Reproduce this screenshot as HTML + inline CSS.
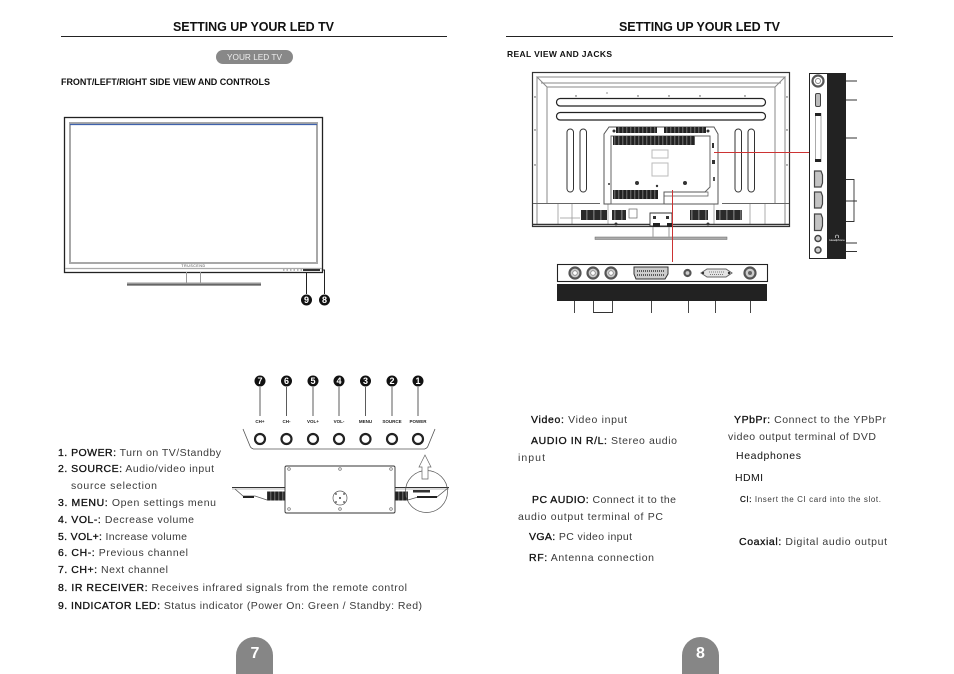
<!DOCTYPE html>
<html><head><meta charset="utf-8"><style>
html,body{margin:0;padding:0;background:#fff;width:954px;height:674px;overflow:hidden}
svg{display:block}
text{font-family:"Liberation Sans",sans-serif;fill:#3a3a3a;font-size:10.5px}
.b{font-weight:bold}
.h{font-weight:bold;font-size:12.5px;fill:#111}
.t tspan.k{fill:#111;stroke:#111;stroke-width:.3px}
.n circle{fill:#111}
.n text{fill:#fff;font-size:9px;font-weight:bold;text-anchor:middle}
.sm{font-size:4.5px;fill:#222;text-anchor:middle;font-weight:bold}
.l{stroke:#222;stroke-width:1;fill:none}
</style></head><body>
<svg width="954" height="674" viewBox="0 0 954 674" xmlns="http://www.w3.org/2000/svg">
<defs>
<pattern id="st" width="4" height="10" patternUnits="userSpaceOnUse"><rect width="4" height="10" fill="#222"/><rect x="2.500" y="0" width=".7" height="10" fill="#999"/></pattern>
<pattern id="st2" width="7" height="10" patternUnits="userSpaceOnUse"><rect width="7" height="10" fill="#2a2a2a"/><rect x="5.500" y="0" width=".8" height="10" fill="#aaa"/></pattern>
</defs>
<!-- headers -->
<text class="h" x="173" y="31" textLength="161" lengthAdjust="spacing">SETTING UP YOUR LED TV</text>
<line x1="61" y1="36.500" x2="447" y2="36.500" stroke="#222"/>
<text class="h" x="619" y="31" textLength="161" lengthAdjust="spacing">SETTING UP YOUR LED TV</text>
<line x1="506" y1="36.500" x2="893" y2="36.500" stroke="#222"/>
<rect x="216" y="50" width="77" height="14" rx="7" fill="#888"/>
<text x="227" y="60" textLength="55" lengthAdjust="spacingAndGlyphs" style="fill:#eee;font-size:8.500px">YOUR LED TV</text>
<text class="b" x="61" y="85" textLength="209" lengthAdjust="spacing" style="font-size:9px;fill:#111">FRONT/LEFT/RIGHT SIDE VIEW AND CONTROLS</text>
<text class="b" x="507" y="57" textLength="105" lengthAdjust="spacing" style="font-size:8.500px;fill:#111">REAL VIEW AND JACKS</text>

<!-- front TV -->
<rect x="64.500" y="117.500" width="258" height="155" fill="#fff" stroke="#222" stroke-width="1.300"/>
<rect x="70" y="123" width="247" height="140" fill="#fff" stroke="#a8a8a8" stroke-width="2"/>
<line x1="70" y1="124.500" x2="317" y2="124.500" stroke="#3f62ad" stroke-width="1.300"/>
<line x1="65" y1="268.500" x2="322" y2="268.500" stroke="#aaa" stroke-width="1.200"/>
<text x="193.500" y="267" text-anchor="middle" style="font-size:3.500px;letter-spacing:.6px">TRUSCEND</text>
<line x1="283" y1="270" x2="322" y2="270" stroke="#777" stroke-dasharray="1.500 2" stroke-width="1"/>
<rect x="303" y="269" width="17" height="2" fill="#333"/>
<line x1="186.500" y1="272" x2="186.500" y2="283" stroke="#999"/>
<line x1="200.500" y1="272" x2="200.500" y2="283" stroke="#999"/>
<rect x="127" y="282.500" width="134" height="2.500" fill="#999"/>
<rect x="127" y="284.500" width="134" height="1" fill="#333"/>
<line x1="306.500" y1="272" x2="306.500" y2="294" stroke="#222"/>
<path d="M322 270H324.500V294" class="l"/>
<g class="n"><circle cx="306.500" cy="300" r="5.500"/><text x="306.500" y="303">9</text><circle cx="324.500" cy="300" r="5.500"/><text x="324.500" y="303">8</text></g>

<!-- buttons -->
<g class="n">
<circle cx="260" cy="381" r="5.500"/><text x="260" y="384">7</text>
<circle cx="286.500" cy="381" r="5.500"/><text x="286.500" y="384">6</text>
<circle cx="313" cy="381" r="5.500"/><text x="313" y="384">5</text>
<circle cx="339" cy="381" r="5.500"/><text x="339" y="384">4</text>
<circle cx="365.500" cy="381" r="5.500"/><text x="365.500" y="384">3</text>
<circle cx="392" cy="381" r="5.500"/><text x="392" y="384">2</text>
<circle cx="418" cy="381" r="5.500"/><text x="418" y="384">1</text>
</g>
<path d="M260 387V416M286.500 387V416M313 387V416M339 387V416M365.500 387V416M392 387V416M418 387V416" stroke="#333" stroke-width=".8"/>
<text class="sm" x="260" y="423">CH+</text><text class="sm" x="286.500" y="423">CH-</text><text class="sm" x="313" y="423">VOL+</text><text class="sm" x="339" y="423">VOL-</text><text class="sm" x="365.500" y="423">MENU</text><text class="sm" x="392" y="423">SOURCE</text><text class="sm" x="418" y="423">POWER</text>
<path d="M243 429L250 446Q251 449 255 449H423Q427 449 428 446L435 429" fill="none" stroke="#555" stroke-width=".8"/>
<line x1="253" y1="449" x2="425" y2="449" stroke="#aaa" stroke-width="1.400"/>
<g fill="#fff" stroke="#222" stroke-width="2.200">
<circle cx="260" cy="439" r="5"/><circle cx="286.500" cy="439" r="5"/><circle cx="313" cy="439" r="5"/><circle cx="339" cy="439" r="5"/><circle cx="365.500" cy="439" r="5"/><circle cx="392" cy="439" r="5"/><circle cx="418" cy="439" r="5"/>
</g>
<!-- bottom view -->
<path d="M232 487.500H285M395 487.500H449" stroke="#333" stroke-width="1"/>
<path d="M232 489H285M395 489H449" stroke="#bbb" stroke-width="1"/>
<path d="M235 489L243 496H255L267 500H285M395 500H408L418 497H437L448 488" fill="none" stroke="#555" stroke-width=".8"/>
<rect x="243" y="496" width="11" height="2" fill="#222"/><rect x="417" y="496" width="20" height="2" fill="#222"/>
<rect x="267" y="491.500" width="18" height="9" fill="url(#st)"/><rect x="395" y="491.500" width="13" height="9" fill="url(#st)"/>
<rect x="413" y="490" width="17" height="2.500" fill="#333"/>
<rect x="285" y="466" width="110" height="47" rx="1.500" fill="#fff" stroke="#333" stroke-width=".9"/>
<g fill="none" stroke="#666" stroke-width=".7"><circle cx="289" cy="469" r="1.300"/><circle cx="340" cy="469" r="1.300"/><circle cx="391" cy="469" r="1.300"/><circle cx="289" cy="509" r="1.300"/><circle cx="340" cy="509" r="1.300"/><circle cx="391" cy="509" r="1.300"/></g>
<circle cx="340" cy="498" r="7" fill="none" stroke="#555" stroke-width=".7"/>
<circle cx="340" cy="498" r="1" fill="#444"/><circle cx="336" cy="494" r=".9" fill="#444"/><circle cx="344" cy="494" r=".9" fill="#444"/><circle cx="336" cy="502" r=".9" fill="#444"/><circle cx="344" cy="502" r=".9" fill="#444"/>
<circle cx="426.500" cy="491.500" r="21" fill="none" stroke="#555" stroke-width=".7"/>
<path d="M425 455L431 467H428V479H422V467H419Z" fill="#fff" stroke="#666" stroke-width=".7"/>

<!-- left list -->
<g class="t">
<text x="58" y="456" textLength="163" lengthAdjust="spacing"><tspan class="k">1. POWER:</tspan> Turn on TV/Standby</text>
<text x="58" y="472" textLength="156" lengthAdjust="spacing"><tspan class="k">2. SOURCE:</tspan> Audio/video input</text>
<text x="71" y="489" textLength="86" lengthAdjust="spacing">source selection</text>
<text x="58" y="506" textLength="158" lengthAdjust="spacing"><tspan class="k">3. MENU:</tspan> Open settings menu</text>
<text x="58" y="523" textLength="136" lengthAdjust="spacing"><tspan class="k">4. VOL-:</tspan> Decrease volume</text>
<text x="58" y="540" textLength="129" lengthAdjust="spacing"><tspan class="k">5. VOL+:</tspan> Increase volume</text>
<text x="58" y="556" textLength="130" lengthAdjust="spacing"><tspan class="k">6. CH-:</tspan> Previous channel</text>
<text x="58" y="573" textLength="110" lengthAdjust="spacing"><tspan class="k">7. CH+:</tspan> Next channel</text>
<text x="58" y="591" textLength="349" lengthAdjust="spacing"><tspan class="k">8. IR RECEIVER:</tspan> Receives infrared signals from the remote control</text>
<text x="58" y="609" textLength="364" lengthAdjust="spacing"><tspan class="k">9. INDICATOR LED:</tspan> Status indicator (Power On: Green / Standby: Red)</text>

<!-- right text -->
<text x="531" y="423" textLength="96" lengthAdjust="spacing"><tspan class="k">Video:</tspan> Video input</text>
<text x="531" y="444" textLength="146" lengthAdjust="spacing"><tspan class="k">AUDIO IN R/L:</tspan> Stereo audio</text>
<text x="518" y="461" textLength="27" lengthAdjust="spacing">input</text>
<text x="532" y="503" textLength="144" lengthAdjust="spacing"><tspan class="k">PC AUDIO:</tspan> Connect it to the</text>
<text x="518" y="520" textLength="145" lengthAdjust="spacing">audio output terminal of PC</text>
<text x="529" y="540" textLength="103" lengthAdjust="spacing"><tspan class="k">VGA:</tspan> PC video input</text>
<text x="529" y="561" textLength="125" lengthAdjust="spacing"><tspan class="k">RF:</tspan> Antenna connection</text>
<text x="734" y="423" textLength="152" lengthAdjust="spacing"><tspan class="k">YPbPr:</tspan> Connect to the YPbPr</text>
<text x="728" y="440" textLength="148" lengthAdjust="spacing">video output terminal of DVD</text>
<text x="736" y="459" textLength="65" lengthAdjust="spacing" style="fill:#111">Headphones</text>
<text x="735" y="481" textLength="28" lengthAdjust="spacing" style="fill:#111">HDMI</text>
<text x="740" y="502" textLength="141" lengthAdjust="spacing" style="font-size:8px"><tspan class="k">CI:</tspan> Insert the CI card into the slot.</text>
<text x="739" y="545" textLength="148" lengthAdjust="spacing"><tspan class="k">Coaxial:</tspan> Digital audio output</text>
</g>

<!-- page tabs -->
<path d="M236 674V655.500A18.500 18.500 0 0 1 273 655.500V674Z" fill="#868686"/>
<path d="M682 674V655.500A18.500 18.500 0 0 1 719 655.500V674Z" fill="#868686"/>
<text class="b" x="255" y="658" text-anchor="middle" style="fill:#fff;font-size:16px">7</text>
<text class="b" x="700.500" y="658" text-anchor="middle" style="fill:#fff;font-size:16px">8</text>

<!-- rear TV -->
<rect x="532.500" y="72.500" width="257" height="154" fill="#fff" stroke="#333" stroke-width="1.200"/>
<path d="M537 77H785L775 87H547ZM537 77V225M785 77V225M547 87V204M775 87V204M541 83H781" fill="none" stroke="#8a8a8a" stroke-width="1"/>
<line x1="533" y1="203.500" x2="600" y2="203.500" stroke="#666" stroke-width=".9"/>
<line x1="722" y1="203.500" x2="789" y2="203.500" stroke="#666" stroke-width=".9"/>
<path d="M558 204V224M572 204V224M560 218H580M750 204V224M765 204V224M608 204V224M714 204V224" stroke="#999" stroke-width=".8" fill="none"/>
<path d="M533 224.500H606M606 224.500H650M672 224.500H789" stroke="#333" stroke-width="1.500"/>
<rect x="556.500" y="98.500" width="209" height="7.500" rx="3.700" fill="#fff" stroke="#222" stroke-width="1.200"/>
<rect x="556.500" y="112.500" width="209" height="7.500" rx="3.700" fill="#fff" stroke="#222" stroke-width="1.200"/>
<g fill="#fff" stroke="#333" stroke-width="1">
<rect x="567" y="129" width="6.500" height="63" rx="3.200"/><rect x="580" y="129" width="6.500" height="63" rx="3.200"/>
<rect x="735" y="129" width="6.500" height="63" rx="3.200"/><rect x="748" y="129" width="6.500" height="63" rx="3.200"/>
</g>
<g fill="#444"><circle cx="607" cy="93" r=".6"/><circle cx="638" cy="96" r=".7"/><circle cx="669" cy="96" r=".7"/><circle cx="700" cy="96" r=".7"/><circle cx="576" cy="96" r=".7"/><circle cx="745" cy="96" r=".7"/><circle cx="535" cy="97" r=".7"/><circle cx="535" cy="130" r=".7"/><circle cx="535" cy="165" r=".7"/><circle cx="787" cy="97" r=".7"/><circle cx="787" cy="130" r=".7"/><circle cx="787" cy="165" r=".7"/></g>
<path d="M604 134L609 127H714L718 134V204H604Z" fill="#fff" stroke="#555" stroke-width="1"/>
<path d="M611 136H710V187L705 192H664V204H611Z" fill="#fff" stroke="#666" stroke-width="1"/>
<rect x="616" y="127" width="41" height="6" fill="url(#st)"/><rect x="664" y="127" width="42" height="6" fill="url(#st)"/>
<rect x="613" y="136" width="82" height="9" fill="url(#st)"/>
<rect x="613" y="190" width="45" height="9" fill="url(#st)"/>
<rect x="581" y="210" width="26" height="10" fill="url(#st2)"/>
<rect x="612" y="210" width="14" height="10" fill="url(#st2)"/>
<rect x="690" y="210" width="18" height="10" fill="url(#st2)"/>
<rect x="716" y="210" width="26" height="10" fill="url(#st2)"/>
<rect x="629" y="209" width="8" height="9" fill="#fff" stroke="#666" stroke-width=".7"/>
<rect x="652" y="150" width="16" height="8" fill="#fff" stroke="#bbb"/>
<rect x="652" y="163" width="16" height="13" fill="#fff" stroke="#bbb"/>
<g fill="#333"><circle cx="637" cy="183" r="2"/><circle cx="685" cy="183" r="2"/><circle cx="657" cy="186" r="1.200"/><circle cx="609" cy="184" r="1"/><circle cx="614" cy="131" r="1.500"/><circle cx="708" cy="131" r="1.500"/><circle cx="616" cy="224" r="1.500"/><circle cx="708" cy="224" r="1.500"/></g>
<rect x="712" y="143" width="2" height="5" fill="#333"/><rect x="712" y="160" width="3" height="4" fill="#333"/><rect x="713" y="177" width="2" height="4" fill="#555"/>
<path d="M664 192H708V196H664ZM664 196V204" fill="none" stroke="#555" stroke-width=".7"/>
<path d="M650 213H672V226H650Z" fill="#fff" stroke="#333" stroke-width=".9"/>
<rect x="653" y="216" width="3" height="3" fill="#333"/><rect x="666" y="216" width="3" height="3" fill="#333"/>
<path d="M653 223H660V227H653ZM667 223H672V227H667Z" fill="#222"/>
<rect x="595" y="237" width="132" height="2.500" fill="#aaa" stroke="#666" stroke-width=".5"/>
<path d="M653 227V237M669 227V237" stroke="#999"/>
<path d="M714 152.500H812M672.500 190V262" stroke="#c33" stroke-width="1"/>

<!-- side panel -->
<rect x="809.500" y="73.500" width="18" height="185" fill="#fff" stroke="#222"/>
<rect x="827" y="73" width="19" height="186" fill="#222"/>
<circle cx="818" cy="81" r="5.500" fill="#fff" stroke="#555" stroke-width="2.200"/>
<circle cx="818" cy="81" r="2.500" fill="#fff" stroke="#888"/>
<rect x="815.500" y="93.500" width="5" height="13" rx="1.500" fill="#bbb" stroke="#444"/>
<rect x="815.500" y="113.500" width="5.500" height="48" fill="#fff" stroke="#aaa"/>
<rect x="815" y="113" width="6" height="3" fill="#222"/><rect x="815" y="159" width="6" height="3" fill="#222"/>
<g fill="#c4c4c4" stroke="#444" stroke-width="1.200">
<path d="M814.500 171H821L822.500 175V183L821 187H814.500Z"/>
<path d="M814.500 192H821L822.500 196V204L821 208H814.500Z"/>
<path d="M814.500 214H821L822.500 218V226L821 230.500H814.500Z"/>
</g>
<circle cx="818" cy="238.500" r="3" fill="#ccc" stroke="#444" stroke-width="1.500"/>
<circle cx="818" cy="250" r="3" fill="#ccc" stroke="#444" stroke-width="1.500"/>
<text x="837" y="241" text-anchor="middle" style="fill:#fff;font-size:3px">Headphone</text>
<path d="M835.500 238V236.500A1.500 1.500 0 0 1 838.500 236.500V238" stroke="#fff" stroke-width=".6" fill="none"/>
<path d="M846 81H857M846 100H857M846 138H857M846 243H857M846 251.500H857M846 179.500H854V221.500H846M846 201H857" stroke="#333" stroke-width=".9" fill="none"/>

<!-- bottom panel -->
<rect x="557.500" y="264.500" width="210" height="17" fill="#fff" stroke="#222" stroke-width="1.100"/>
<rect x="557" y="284" width="210" height="17" fill="#222"/>
<g fill="#ccc" stroke="#555" stroke-width="2.200">
<circle cx="575" cy="273" r="5.500"/><circle cx="593" cy="273" r="5.500"/><circle cx="611" cy="273" r="5.500"/>
<circle cx="750" cy="273" r="5.500"/>
<circle cx="687.500" cy="273" r="3"/>
</g>
<g fill="#fff" stroke="#888" stroke-width=".8"><circle cx="575" cy="273" r="2.300"/><circle cx="593" cy="273" r="2.300"/><circle cx="611" cy="273" r="2.300"/></g>
<circle cx="750" cy="273" r="2" fill="#666"/>
<path d="M634 267H668V274L665 279H636L634 274Z" fill="#ccc" stroke="#333" stroke-width="1"/>
<path d="M637 271H665M637 275H664" stroke="#333" stroke-width="1.500" stroke-dasharray="1 1"/>
<path d="M701 273L707 269H726L732 273L726 277H707Z" fill="#e4e4e4" stroke="#666" stroke-width="1"/>
<path d="M709 272H724M710 274.500H723" stroke="#777" stroke-dasharray="1 1"/>
<circle cx="703" cy="273" r="1.200" fill="#333"/><circle cx="729" cy="273" r="1.200" fill="#333"/>
<path d="M574.500 301V313M593.500 301V312.500H612.500V301M651.500 301V313M688.500 301V313M715.500 301V313M750.500 301V313" stroke="#333" stroke-width=".9" fill="none"/>
</svg>
</body></html>
